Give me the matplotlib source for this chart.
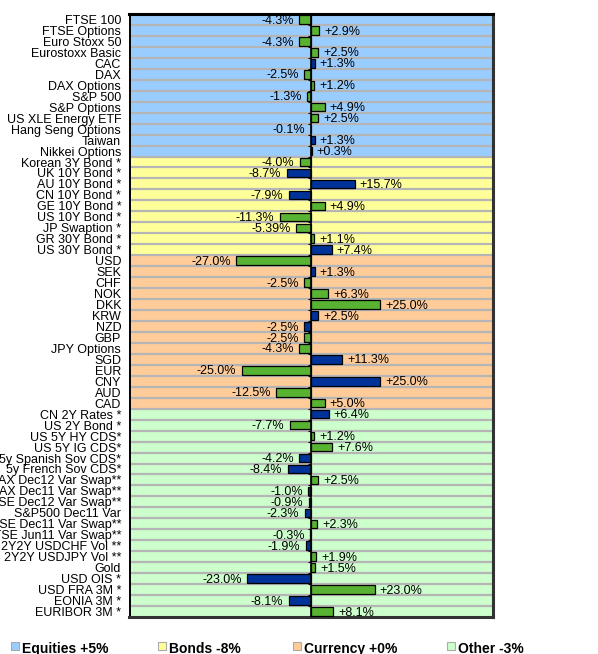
import matplotlib
matplotlib.use("Agg")
import matplotlib.pyplot as plt
from matplotlib.patches import Rectangle

plt.rcParams['font.family'] = ['Liberation Sans', 'DejaVu Sans']

# ---- data ----
equities = ["FTSE 100", "FTSE Options", "Euro Stoxx 50", "Eurostoxx Basic", "CAC", "DAX",
            "DAX Options", "S&P 500", "S&P Options", "US XLE Energy ETF",
            "Hang Seng Options", "Taiwan", "Nikkei Options"]
equities_val = [-4.3, 2.9, -4.3, 2.5, 1.3, -2.5, 1.2, -1.3, 4.9, 2.5, -0.1, 1.3, 0.3]
equities_col = "ggggbgggggbbb"

bonds = ["Korean 3Y Bond *", "UK 10Y Bond *", "AU 10Y Bond *", "CN 10Y Bond *",
         "GE 10Y Bond *", "US 10Y Bond *", "JP Swaption *", "GR 30Y Bond *", "US 30Y Bond *"]
bonds_val = [-4.0, -8.7, 15.7, -7.9, 4.9, -11.3, -5.39, 1.1, 7.4]
bonds_col = "gbbbggggb"

currency = ["USD", "SEK", "CHF", "NOK", "DKK", "KRW", "NZD", "GBP", "JPY Options",
            "SGD", "EUR", "CNY", "AUD", "CAD"]
currency_val = [-27.0, 1.3, -2.5, 6.3, 25.0, 2.5, -2.5, -2.5, -4.3, 11.3, -25.0, 25.0, -12.5, 5.0]
currency_col = "gbgggbbggbgbgg"

other = ["CN 2Y Rates *", "US 2Y Bond *", "US 5Y HY CDS*", "US 5Y IG CDS*",
         "5y Spanish Sov CDS*", "5y French Sov CDS*", "DAX Dec12 Var Swap**",
         "DAX Dec11 Var Swap**", "FTSE Dec12 Var Swap**", "S&P500 Dec11 Var",
         "FTSE Dec11 Var Swap**", "FTSE Jun11 Var Swap**", "2Y2Y USDCHF Vol **",
         "2Y2Y USDJPY Vol **", "Gold", "USD OIS *", "USD FRA 3M *", "EONIA 3M *", "EURIBOR 3M *"]
other_val = [6.4, -7.7, 1.2, 7.6, -4.2, -8.4, 2.5, -1.0, -0.9, -2.3, 2.3, -0.3, -1.9,
             1.9, 1.5, -23.0, 23.0, -8.1, 8.1]
other_col = "bgggbbgbbbgbbggbgbg"

groups = ["Equities +5%", "Bonds -8%", "Currency +0%", "Other -3%"]
group_bg = ["#99ccff", "#ffff99", "#ffcc99", "#ccffcc"]

labels = equities + bonds + currency + other
values = equities_val + bonds_val + currency_val + other_val
cols = equities_col + bonds_col + currency_col + other_col
sizes = [len(equities), len(bonds), len(currency), len(other)]
bar_colors = {"g": "#58b332", "b": "#003399"}

n = len(labels)
ypos = list(range(n))

fig = plt.figure(figsize=(5.98, 6.54), dpi=100)
ax = fig.add_axes([129.5 / 598, 1 - 617 / 654, 363 / 598, 603 / 654])

# group backgrounds
start = 0
for size, bg in zip(sizes, group_bg):
    ax.axhspan(start - 0.5, start + size - 0.5, color=bg, zorder=0, lw=0)
    start += size

# row separators
for i in range(n - 1):
    ax.axhline(i + 0.5, color="#b5b5b5", lw=1.6, zorder=1)

ax.barh(ypos, values, height=0.78, color=[bar_colors[c] for c in cols],
        edgecolor="black", linewidth=0.9, zorder=3)

# zero axis and its ticks
ax.axvline(0, color="black", lw=1.2, zorder=4)
ax.hlines([i + 0.5 for i in range(n - 1)], -1.1, 0, color="black", lw=0.8, zorder=4)

for y, v in zip(ypos, values):
    txt = f"{v:+.1f}%" if round(v, 1) == v else f"{v:+.2f}%"
    if v < 0:
        ax.text(v - 2.0, y + 0.1, txt, ha="right", va="center", fontsize=9, zorder=5)
    else:
        ax.text(v + 1.8, y + 0.1, txt, ha="left", va="center", fontsize=9, zorder=5)

ax.set_xlim(-65.5, 65.5)
ax.set_ylim(n - 0.5, -0.5)
ax.set_xticks([])
ax.set_yticks(ypos)
ax.set_yticklabels(labels, fontsize=9)
ax.tick_params(axis="y", length=0, pad=6)

for side in ["left", "top"]:
    ax.spines[side].set_color("black")
ax.spines["top"].set_linewidth(2.2)
ax.spines["left"].set_linewidth(1.4)
for side in ["right", "bottom"]:
    ax.spines[side].set_color("#333333")
    ax.spines[side].set_linewidth(2.2)

# legend row
leg_x = [11, 158, 293, 447]
for x, g, bg in zip(leg_x, groups, group_bg):
    fig.patches.append(Rectangle((x / 598, 1 - 650 / 654), 8 / 598, 8 / 654,
                                 transform=fig.transFigure, facecolor=bg,
                                 edgecolor="#aaaaaa", lw=0.8))
    fig.text((x + 11) / 598, 1 - 649 / 654, g, fontsize=10, fontweight="bold",
             ha="left", va="center")

fig.savefig("out.png", dpi=100)
